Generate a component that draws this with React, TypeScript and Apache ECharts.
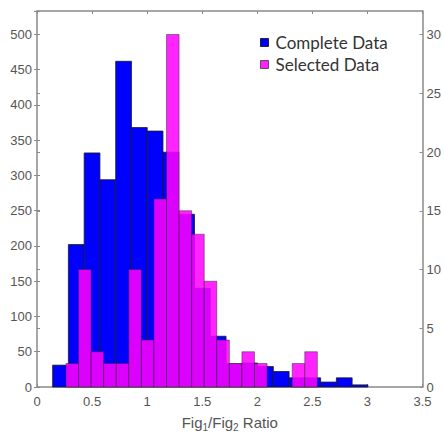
import React, { useEffect, useRef } from "react";
import * as echarts from "echarts";

// Complete data: 20 bins on the left axis
const completeStart = 0.142;
const completeWidth = 0.1431;
const completeCounts = [31, 202, 332, 294, 462, 368, 363, 333, 245, 140, 72, 33, 34, 29, 22, 13, 13, 7, 13, 3];

// Selected data: 20 bins on the right axis
const selectedStart = 0.263;
const selectedWidth = 0.1141;
const selectedCounts = [2, 10, 3, 2, 2, 10, 4, 16, 30, 15, 13, 9, 4, 2, 3, 2, 0, 0, 2, 3];

const xTicks = { min: 0, max: 3.5, interval: 0.5 };
const leftTicks = { min: 0, max: 533.33, interval: 50 };
const rightTicks = { min: 0, max: 32, interval: 5 };

const toBins = (start: number, width: number, counts: number[]) =>
  counts.map((c, i) => [start + i * width, start + (i + 1) * width, c]);

const AXIS_COLOR = "#8a8a8a";
const LABEL_COLOR = "#555555";

export default function App() {
  const ref = useRef<HTMLDivElement>(null);

  useEffect(() => {
    if (!ref.current) return;
    const chart = echarts.init(ref.current, undefined, { renderer: "svg" });

    const histItem = (fill: string, stroke: string) => (params: any, api: any) => {
      const x0 = api.value(0);
      const x1 = api.value(1);
      const y = api.value(2);
      if (!y) return null;
      const p0 = api.coord([x0, 0]);
      const p1 = api.coord([x1, y]);
      return {
        type: "rect",
        shape: { x: p0[0], y: p1[1], width: p1[0] - p0[0], height: p0[1] - p1[1] },
        style: { fill, stroke, lineWidth: 0.8 },
      };
    };

    const tickStyle = { show: true, inside: true, length: 3, lineStyle: { color: AXIS_COLOR, width: 1 } };
    const labelFont = { color: LABEL_COLOR, fontFamily: "Liberation Sans, Arial, sans-serif", fontSize: 13 };

    chart.setOption({
      animation: false,
      grid: { left: 37, right: 21, top: 11, bottom: 43, containLabel: false },
      legend: {
        orient: "vertical",
        left: 255,
        top: 29,
        itemWidth: 8,
        itemHeight: 8,
        itemGap: 5,
        textStyle: { color: "#333333", fontSize: 17, fontFamily: "Lato, 'Open Sans', sans-serif", padding: [0, 0, 0, 2] },
        data: [
          { name: "Complete Data", icon: "rect", itemStyle: { color: "#0000ff", borderColor: "#222", borderWidth: 1 } },
          { name: "Selected Data", icon: "rect", itemStyle: { color: "#ff22ff", borderColor: "#555", borderWidth: 1 } },
        ],
      },
      xAxis: [
        {
          type: "value",
          position: "bottom",
          ...xTicks,
          axisLine: { show: true, onZero: false, lineStyle: { color: AXIS_COLOR, width: 1.5 } },
          axisTick: tickStyle,
          splitLine: { show: false },
          axisLabel: { ...labelFont, margin: 8 },
          name: "Fig{s|1}/Fig{s|2} Ratio",
          nameLocation: "middle",
          nameGap: 25,
          nameTextStyle: {
            color: LABEL_COLOR,
            fontFamily: "Liberation Sans, Arial, sans-serif",
            fontSize: 15,
            rich: {
              s: { fontSize: 10, color: LABEL_COLOR, fontFamily: "Liberation Sans, Arial, sans-serif", padding: [10, 0, 0, 0] },
            },
          },
        },
        {
          type: "value",
          position: "top",
          ...xTicks,
          axisLine: { show: true, onZero: false, lineStyle: { color: AXIS_COLOR, width: 1.5 } },
          axisTick: tickStyle,
          splitLine: { show: false },
          axisLabel: { show: false },
        },
      ],
      yAxis: [
        {
          type: "value",
          position: "left",
          ...leftTicks,
          axisLine: { show: true, onZero: false, lineStyle: { color: AXIS_COLOR, width: 1.5 } },
          axisTick: tickStyle,
          splitLine: { show: false },
          axisLabel: { ...labelFont, margin: 5, showMaxLabel: false },
        },
        {
          type: "value",
          position: "right",
          ...rightTicks,
          axisLine: { show: true, onZero: false, lineStyle: { color: AXIS_COLOR, width: 1.5 } },
          axisTick: tickStyle,
          splitLine: { show: false },
          axisLabel: { ...labelFont, margin: 4, showMaxLabel: false },
        },
        {
          type: "value",
          position: "left",
          ...rightTicks,
          axisLine: { show: false },
          axisTick: tickStyle,
          splitLine: { show: false },
          axisLabel: { show: false },
        },
        {
          type: "value",
          position: "right",
          ...leftTicks,
          axisLine: { show: false },
          axisTick: tickStyle,
          splitLine: { show: false },
          axisLabel: { show: false },
        },
      ],
      series: [
        {
          name: "Complete Data",
          type: "custom",
          xAxisIndex: 0,
          yAxisIndex: 0,
          renderItem: histItem("#0000ff", "#1a1a1a"),
          encode: { x: [0, 1], y: 2 },
          data: toBins(completeStart, completeWidth, completeCounts),
          itemStyle: { color: "#0000ff" },
        },
        {
          name: "Selected Data",
          type: "custom",
          xAxisIndex: 0,
          yAxisIndex: 1,
          renderItem: histItem("rgba(255,0,255,0.86)", "rgba(40,40,40,0.6)"),
          encode: { x: [0, 1], y: 2 },
          data: toBins(selectedStart, selectedWidth, selectedCounts),
          itemStyle: { color: "#ff22ff" },
        },
      ],
    });

    return () => chart.dispose();
  }, []);

  return <div ref={ref} style={{ width: 444, height: 437, position: "absolute", left: 0, top: 0 }} />;
}
